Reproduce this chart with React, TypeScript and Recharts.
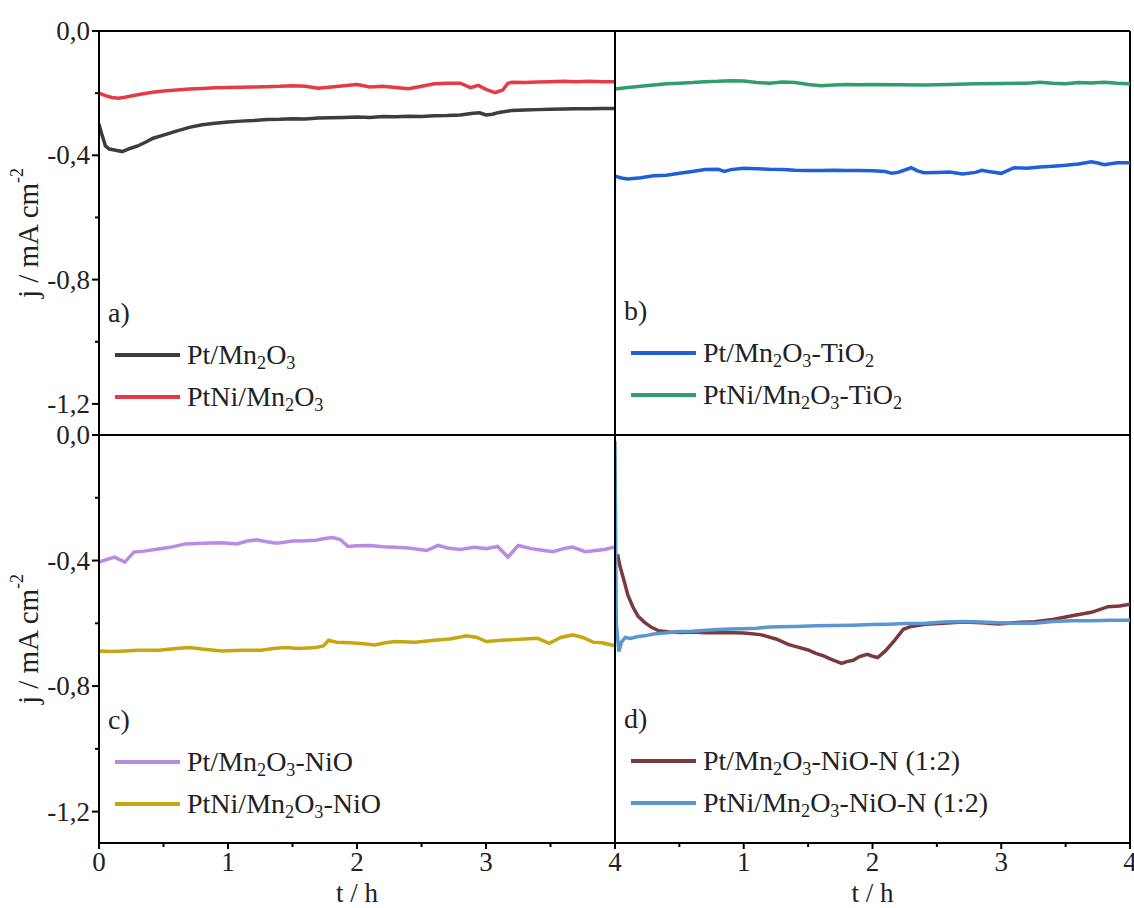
import React from 'react';
import { LineChart, Line, XAxis, YAxis, ReferenceLine, Legend } from 'recharts';

const FONT = 'Liberation Serif, Tinos, DejaVu Serif, Noto Serif, Times New Roman, serif';

// ---------- Panel a ----------
const tPtMn = [0, 0.02, 0.05, 0.08, 0.12, 0.18, 0.24, 0.3, 0.36, 0.42, 0.5, 0.6, 0.7, 0.8, 0.9, 1.0, 1.1, 1.2, 1.3, 1.4, 1.5, 1.6, 1.7, 1.8, 1.9, 2.0, 2.1, 2.2, 2.3, 2.4, 2.5, 2.6, 2.7, 2.8, 2.9, 2.95, 3.0, 3.05, 3.1, 3.2, 3.3, 3.4, 3.5, 3.6, 3.7, 3.8, 3.9, 4.0];
const jPtMn = [-0.3, -0.33, -0.37, -0.38, -0.383, -0.388, -0.378, -0.37, -0.358, -0.345, -0.335, -0.322, -0.31, -0.302, -0.297, -0.293, -0.29, -0.288, -0.285, -0.284, -0.282, -0.283, -0.28, -0.279, -0.278, -0.277, -0.278, -0.275, -0.276, -0.274, -0.275, -0.273, -0.272, -0.27, -0.265, -0.263, -0.27, -0.268, -0.262, -0.256, -0.254, -0.253, -0.252, -0.251, -0.25, -0.25, -0.249, -0.249];

const tPtNiMn = [0, 0.05, 0.1, 0.15, 0.2, 0.3, 0.4, 0.5, 0.6, 0.7, 0.8, 0.9, 1.0, 1.1, 1.2, 1.3, 1.4, 1.5, 1.6, 1.7, 1.8, 1.9, 2.0, 2.1, 2.2, 2.3, 2.4, 2.5, 2.6, 2.7, 2.8, 2.88, 2.94, 3.0, 3.07, 3.13, 3.17, 3.2, 3.3, 3.4, 3.5, 3.6, 3.7, 3.8, 3.9, 4.0];
const jPtNiMn = [-0.2, -0.208, -0.214, -0.216, -0.213, -0.205, -0.198, -0.193, -0.19, -0.187, -0.185, -0.183, -0.182, -0.181, -0.18, -0.179, -0.178, -0.176, -0.178, -0.184, -0.18, -0.176, -0.172, -0.18, -0.178, -0.182, -0.186, -0.178, -0.17, -0.168, -0.168, -0.182, -0.175, -0.188, -0.198, -0.19, -0.168, -0.165, -0.166, -0.164, -0.163, -0.162, -0.163, -0.162, -0.163, -0.163];

// ---------- Panel b ----------
const tPtMnTi = [0, 0.05, 0.1, 0.2, 0.3, 0.4, 0.5, 0.6, 0.7, 0.8, 0.85, 0.9, 1.0, 1.1, 1.2, 1.3, 1.4, 1.5, 1.6, 1.7, 1.8, 1.9, 2.0, 2.1, 2.15, 2.2, 2.3, 2.35, 2.4, 2.5, 2.6, 2.7, 2.8, 2.85, 2.9, 3.0, 3.1, 3.2, 3.3, 3.4, 3.5, 3.6, 3.7, 3.75, 3.8, 3.9, 4.0];
const jPtMnTi = [-0.467, -0.473, -0.476, -0.472, -0.466, -0.464, -0.458, -0.452, -0.446, -0.445, -0.452, -0.446, -0.442, -0.443, -0.445, -0.446, -0.448, -0.449, -0.449, -0.448, -0.449, -0.449, -0.45, -0.452, -0.458, -0.455, -0.44, -0.45, -0.456, -0.455, -0.454, -0.46, -0.455, -0.448, -0.452, -0.458, -0.44, -0.442, -0.438, -0.435, -0.432, -0.428, -0.421, -0.425, -0.43, -0.424, -0.424];

const tPtNiMnTi = [0, 0.1, 0.2, 0.3, 0.4, 0.5, 0.6, 0.7, 0.8, 0.9, 1.0, 1.1, 1.2, 1.3, 1.4, 1.5, 1.6, 1.7, 1.8, 1.9, 2.0, 2.2, 2.4, 2.6, 2.8, 3.0, 3.2, 3.3, 3.4, 3.5, 3.6, 3.7, 3.8, 3.9, 4.0];
const jPtNiMnTi = [-0.187, -0.182, -0.178, -0.174, -0.17, -0.168, -0.166, -0.163, -0.162, -0.16, -0.161, -0.166, -0.168, -0.164, -0.166, -0.172, -0.176, -0.174, -0.172, -0.173, -0.172, -0.173, -0.174, -0.172, -0.17, -0.169, -0.168, -0.165, -0.168, -0.17, -0.166, -0.167, -0.165, -0.168, -0.17];

// ---------- Panel c ----------
const tPtMnNi = [0, 0.05, 0.12, 0.2, 0.27, 0.35, 0.46, 0.55, 0.67, 0.8, 0.95, 1.07, 1.15, 1.22, 1.3, 1.38, 1.5, 1.6, 1.68, 1.75, 1.81, 1.87, 1.93, 2.0, 2.1, 2.2, 2.3, 2.4, 2.54, 2.63, 2.7, 2.8, 2.91, 3.0, 3.09, 3.17, 3.25, 3.35, 3.45, 3.52, 3.6, 3.67, 3.77, 3.85, 3.92, 4.0];
const jPtMnNi = [-0.405, -0.398, -0.389, -0.405, -0.373, -0.37, -0.363, -0.358, -0.347, -0.345, -0.343, -0.347, -0.338, -0.334, -0.34, -0.345, -0.338, -0.337, -0.335, -0.33, -0.327, -0.333, -0.355, -0.353, -0.352, -0.356, -0.358, -0.36, -0.368, -0.352, -0.36, -0.365, -0.358, -0.362, -0.355, -0.389, -0.352, -0.362, -0.368, -0.372, -0.362, -0.357, -0.372, -0.368, -0.365, -0.357];

const tPtNiMnNi = [0, 0.1, 0.2, 0.3, 0.46, 0.6, 0.7, 0.8, 0.95, 1.1, 1.26, 1.35, 1.44, 1.55, 1.68, 1.74, 1.78, 1.84, 1.95, 2.05, 2.14, 2.22, 2.3, 2.45, 2.6, 2.72, 2.85, 2.93, 3.0, 3.1, 3.21, 3.3, 3.4, 3.49, 3.58, 3.67, 3.75, 3.83, 3.9, 4.0];
const jPtNiMnNi = [-0.688, -0.69, -0.688, -0.686, -0.686, -0.68, -0.677, -0.682, -0.688, -0.686, -0.686, -0.68, -0.677, -0.68, -0.677, -0.672, -0.654, -0.66, -0.662, -0.665, -0.669, -0.662, -0.658, -0.66, -0.654, -0.65, -0.64, -0.645, -0.658, -0.655, -0.652, -0.65, -0.648, -0.664, -0.645, -0.637, -0.645, -0.66, -0.662, -0.672];

// ---------- Panel d ----------
const tPtMnNiN = [0.02, 0.04, 0.07, 0.1, 0.14, 0.18, 0.23, 0.28, 0.34, 0.42, 0.51, 0.6, 0.7, 0.85, 1.0, 1.13, 1.25, 1.35, 1.42, 1.5, 1.56, 1.62, 1.68, 1.76, 1.8, 1.85, 1.9, 1.96, 2.0, 2.04, 2.1, 2.17, 2.24, 2.3, 2.41, 2.55, 2.7, 2.85, 2.98, 3.1, 3.26, 3.4, 3.55, 3.7, 3.83, 3.92, 4.0];
const jPtMnNiN = [-0.38, -0.42, -0.464, -0.51, -0.549, -0.578, -0.597, -0.612, -0.624, -0.628, -0.629, -0.628, -0.63, -0.629, -0.631, -0.636, -0.65, -0.668, -0.676, -0.685, -0.696, -0.704, -0.715, -0.728, -0.722, -0.718, -0.706, -0.699, -0.705, -0.709, -0.688, -0.655, -0.619, -0.61, -0.603, -0.6, -0.596, -0.598, -0.602, -0.598, -0.595, -0.588, -0.576, -0.565, -0.547, -0.545, -0.539];

const tPtNiMnNiN = [0, 0.01, 0.03, 0.05, 0.08, 0.12, 0.18, 0.23, 0.3, 0.36, 0.43, 0.5, 0.6, 0.71, 0.8, 0.9, 0.99, 1.1, 1.2, 1.28, 1.4, 1.56, 1.7, 1.85, 2.0, 2.13, 2.25, 2.41, 2.55, 2.7, 2.85, 2.98, 3.1, 3.26, 3.4, 3.55, 3.7, 3.85, 4.0];
const jPtNiMnNiN = [-0.02, -0.6, -0.69, -0.66, -0.645, -0.648, -0.642, -0.64, -0.634, -0.632, -0.629, -0.626, -0.625, -0.622, -0.62, -0.618, -0.617, -0.616, -0.612, -0.611, -0.61, -0.608, -0.607, -0.606, -0.604, -0.603, -0.601, -0.6, -0.596, -0.594, -0.596, -0.598, -0.6, -0.6, -0.594, -0.592, -0.592, -0.59, -0.59];

// ---------- Axes ----------
const xTicks = [0, 0.5, 1, 1.5, 2, 2.5, 3, 3.5, 4];
const xMajor = [0, 1, 2, 3, 4];
const yTicks = [0, -0.2, -0.4, -0.6, -0.8, -1.0, -1.2];
const yMajor = [0, -0.4, -0.8, -1.2];

type Series = { name: string; color: string; t: number[]; j: number[] };

const zip = (t: number[], j: number[]) => t.map((x, i) => ({ t: x, j: j[i] }));

const isMajorY = (v: number) => yMajor.some((m) => Math.abs(m - v) < 1e-6);
const isMajorX = (v: number) => xMajor.some((m) => Math.abs(m - v) < 1e-6);

const renderName = (name: string) => {
  const parts: React.ReactNode[] = [];
  let buf = '';
  for (let i = 0; i < name.length; i++) {
    if (name[i] === '_' && i + 1 < name.length) {
      if (buf) parts.push(buf);
      buf = '';
      parts.push(
        <sub key={i} style={{ fontSize: '0.65em', verticalAlign: '-0.3em', lineHeight: 0 }}>
          {name[i + 1]}
        </sub>
      );
      i++;
    } else buf += name[i];
  }
  if (buf) parts.push(buf);
  return parts;
};

const XTick = (props: any) => {
  const { x, y, payload, hide0 } = props;
  const v = payload.value as number;
  const major = isMajorX(v);
  const showLabel = major && !(hide0 && Math.abs(v) < 1e-6);
  return (
    <g>
      <line x1={x} y1={y} x2={x} y2={y + (major ? 6 : 4)} stroke="#000" strokeWidth={2} />
      {showLabel && (
        <text x={x} y={y + 9} dy="0.72em" textAnchor="middle" fontFamily={FONT} fontSize={27} fill="#222">
          {String(v)}
        </text>
      )}
    </g>
  );
};

const YTick = (props: any) => {
  const { x, y, payload } = props;
  const v = payload.value as number;
  const major = isMajorY(v);
  return (
    <g>
      <line x1={x} y1={y} x2={x - (major ? 7 : 4)} y2={y} stroke="#000" strokeWidth={2} />
      {major && (
        <text x={x - 9} y={y} textAnchor="end" dominantBaseline="central" fontFamily={FONT} fontSize={27} fill="#222">
          {v.toFixed(1).replace('.', ',')}
        </text>
      )}
    </g>
  );
};

const YLabel = (props: any) => {
  const vb = props.viewBox || { x: 0, y: 0, width: 0, height: 0 };
  const cx = vb.x + 28;
  const cy = vb.y + vb.height / 2;
  return (
    <text
      x={cx}
      y={cy}
      transform={`rotate(-90 ${cx} ${cy})`}
      textAnchor="middle"
      dominantBaseline="central"
      fontFamily={FONT}
      fontSize={29}
      fill="#222"
    >
      j / mA cm<tspan dy={-11} fontSize={18}>-2</tspan>
    </text>
  );
};

const XLabel = (props: any) => {
  const vb = props.viewBox || { x: 0, y: 0, width: 0, height: 0 };
  return (
    <text
      x={vb.x + vb.width / 2}
      y={vb.y + 50}
      textAnchor="middle"
      dominantBaseline="central"
      fontFamily={FONT}
      fontSize={27}
      fill="#222"
    >
      t / h
    </text>
  );
};

type PanelProps = {
  left: number;
  top: number;
  width: number;
  height: number;
  margin: { top: number; right: number; bottom: number; left: number };
  yWidth: number;
  showY: boolean;
  showX: boolean;
  hideX0: boolean;
  letter: string;
  legendLeft: number;
  legendTop: number;
  series: Series[];
};

const Panel = (p: PanelProps) => {
  const legendContent = (props: any) => (
    <div style={{ fontFamily: FONT, color: '#222', fontSize: 28 }}>
      <div style={{ height: 30, lineHeight: '30px', fontSize: 28 }}>{p.letter}</div>
      <div style={{ marginTop: 6 }}>
        {(props.payload || []).map((e: any, i: number) => (
          <div key={i} style={{ display: 'flex', alignItems: 'center', height: 42, marginLeft: 7 }}>
            <svg width={65} height={6} style={{ display: 'block' }}>
              <line x1={0} y1={3} x2={65} y2={3} stroke={e.color} strokeWidth={4} />
            </svg>
            <span style={{ marginLeft: 7, whiteSpace: 'nowrap', lineHeight: '42px' }}>{renderName(e.value)}</span>
          </div>
        ))}
      </div>
    </div>
  );

  return (
    <div style={{ position: 'absolute', left: p.left, top: p.top, width: p.width, height: p.height }}>
      <LineChart width={p.width} height={p.height} margin={p.margin} style={{ overflow: 'visible' }}>
        <XAxis
          type="number"
          dataKey="t"
          domain={[0, 4]}
          ticks={xTicks}
          allowDataOverflow
          hide={!p.showX}
          height={65}
          axisLine={{ stroke: '#000', strokeWidth: 2 }}
          tickLine={false}
          tickSize={0}
          tickMargin={0}
          tick={<XTick hide0={p.hideX0} />}
          interval={0}
          label={p.showX ? <XLabel /> : undefined}
        />
        <YAxis
          type="number"
          domain={[-1.3, 0]}
          ticks={yTicks}
          allowDataOverflow
          width={p.yWidth}
          interval={0}
          axisLine={{ stroke: '#000', strokeWidth: 2 }}
          tickLine={false}
          tickSize={0}
          tickMargin={0}
          tick={p.showY ? <YTick /> : false}
          label={p.showY ? <YLabel /> : undefined}
        />
        <ReferenceLine y={0} stroke="#000" strokeWidth={2} />
        <ReferenceLine y={-1.3} stroke="#000" strokeWidth={2} />
        <ReferenceLine x={4} stroke="#000" strokeWidth={2} />
        {p.series.map((s) => (
          <Line
            key={s.name}
            data={zip(s.t, s.j)}
            dataKey="j"
            name={s.name}
            type="linear"
            stroke={s.color}
            strokeWidth={3.5}
            dot={false}
            activeDot={false}
            isAnimationActive={false}
          />
        ))}
        <Legend
          layout="vertical"
          align="center"
          verticalAlign="middle"
          wrapperStyle={{ left: p.legendLeft, top: p.legendTop, width: 420 }}
          content={legendContent}
        />
      </LineChart>
    </div>
  );
};

const seriesA: Series[] = [
  { name: 'Pt/Mn_2O_3', color: '#3d3d3d', t: tPtMn, j: jPtMn },
  { name: 'PtNi/Mn_2O_3', color: '#e63b46', t: tPtNiMn, j: jPtNiMn },
];
const seriesB: Series[] = [
  { name: 'Pt/Mn_2O_3-TiO_2', color: '#1f5fd8', t: tPtMnTi, j: jPtMnTi },
  { name: 'PtNi/Mn_2O_3-TiO_2', color: '#2e9e6b', t: tPtNiMnTi, j: jPtNiMnTi },
];
const seriesC: Series[] = [
  { name: 'Pt/Mn_2O_3-NiO', color: '#b98be2', t: tPtMnNi, j: jPtMnNi },
  { name: 'PtNi/Mn_2O_3-NiO', color: '#c6a712', t: tPtNiMnNi, j: jPtNiMnNi },
];
const seriesD: Series[] = [
  { name: 'Pt/Mn_2O_3-NiO-N (1:2)', color: '#7b3b3e', t: tPtMnNiN, j: jPtMnNiN },
  { name: 'PtNi/Mn_2O_3-NiO-N (1:2)', color: '#5a97d0', t: tPtNiMnNiN, j: jPtNiMnNiN },
];

export default function App() {
  return (
    <div style={{ position: 'absolute', left: 0, top: 0, width: 1134, height: 908, background: '#fff', overflow: 'hidden' }}>
      <Panel
        left={0} top={0} width={620} height={440}
        margin={{ top: 31, right: 5, bottom: 5, left: 0 }}
        yWidth={99} showY showX={false} hideX0={false}
        letter="a)" legendLeft={108} legendTop={298} series={seriesA}
      />
      <Panel
        left={610} top={0} width={524} height={440}
        margin={{ top: 31, right: 4, bottom: 5, left: 0 }}
        yWidth={5} showY={false} showX={false} hideX0
        letter="b)" legendLeft={14} legendTop={296} series={seriesB}
      />
      <Panel
        left={0} top={400} width={640} height={508}
        margin={{ top: 35, right: 25, bottom: 0, left: 0 }}
        yWidth={99} showY showX hideX0={false}
        letter="c)" legendLeft={108} legendTop={305} series={seriesC}
      />
      <Panel
        left={610} top={430} width={524} height={478}
        margin={{ top: 5, right: 4, bottom: 0, left: 0 }}
        yWidth={5} showY={false} showX hideX0
        letter="d)" legendLeft={14} legendTop={274} series={seriesD}
      />
    </div>
  );
}
